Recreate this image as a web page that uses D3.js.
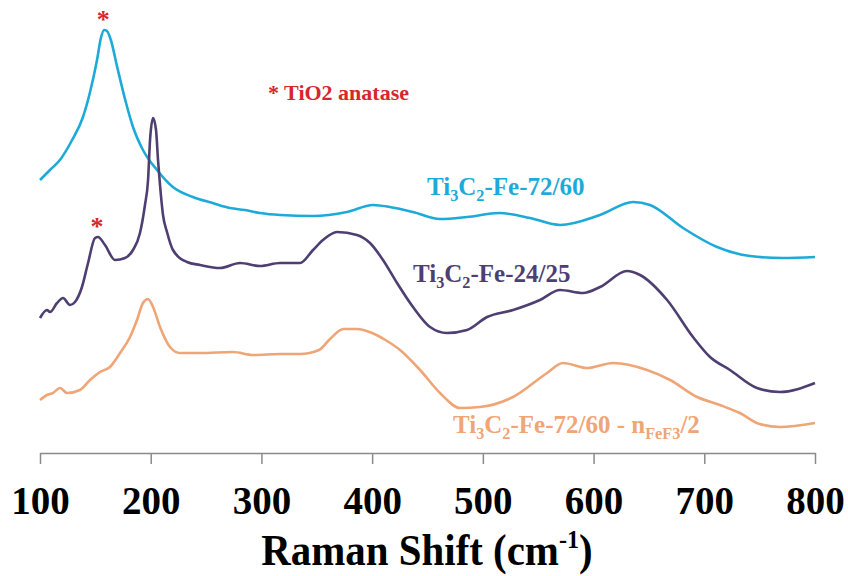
<!DOCTYPE html>
<html>
<head>
<meta charset="utf-8">
<script src="https://cdn.jsdelivr.net/npm/d3@7"></script>
<style>
  body { margin: 0; background: #fff; }
</style>
</head>
<body>
<div id="chart"></div>
<script>
// Raman shift (cm-1) and intensity (a.u., offset stacked)
const shiftTicks = [100, 200, 300, 400, 500, 600, 700, 800]

const cyanShift = [100, 109, 118, 129, 138.5, 145, 151.5, 155, 158, 160.5, 164, 169.5, 177, 184, 193, 205.7, 220, 238, 256, 271.6, 285, 298.7, 316.8, 346.6, 377.3, 400.8, 416, 436.9, 461.3, 485.7, 514.6, 542.6, 569.7, 605.8, 635.7, 651, 680.8, 711.5, 741.3, 771.1, 800]
const cyanIntensity = [275, 285, 295, 315, 337, 362, 395, 417, 425, 424, 415, 389, 355, 328, 305, 285, 268, 258, 252, 247, 245, 242, 240, 239, 243, 250, 248, 243, 236, 238, 242, 237, 230, 240, 253, 250, 227, 208, 199, 197, 198]

const purpleShift = [100, 106.3, 109, 115.4, 120.8, 127.1, 131.6, 137.9, 143.4, 149.7, 152.4, 158.7, 167.7, 176.8, 184, 190.3, 194.8, 197.6, 199.4, 202.1, 204.8, 206.6, 208.4, 211.1, 214.7, 220.1, 232.8, 244.5, 262.6, 280.7, 298.7, 316.8, 334.9, 346.6, 355.6, 368.3, 386.3, 398.1, 409.8, 422.5, 436.9, 452.3, 467.6, 485.7, 503.8, 527.3, 551.6, 569.7, 590.5, 605.8, 630.2, 642, 666.4, 689.8, 705.2, 723.2, 747.6, 768.4, 800]
const purpleIntensity = [137, 145, 143, 152, 157, 150, 153, 168, 192, 217, 218, 210, 195, 197, 205, 222, 250, 275, 315, 337, 325, 295, 270, 240, 223, 205, 193, 190, 187, 192, 189, 192, 192, 205, 215, 223, 220, 212, 195, 172, 148, 128, 122, 125, 138, 145, 155, 165, 162, 168, 184, 180, 155, 118, 98, 85, 67, 63, 72]

const orangeShift = [100, 106.3, 111.7, 118.1, 124.4, 136.1, 145.2, 154.2, 163.2, 172.3, 181.3, 187.6, 193, 197.6, 202.1, 208.4, 217.4, 226.5, 244.5, 274.3, 292.4, 316.8, 334.9, 352, 362, 374, 386.3, 400, 412, 425.2, 443.3, 461.3, 479.4, 497.5, 527.3, 558, 572.4, 594.1, 617.6, 648.3, 669.1, 693.5, 714, 732, 750, 768.4, 800]
const orangeIntensity = [55, 60, 62, 67, 62, 65, 75, 83, 88, 102, 118, 135, 152, 156, 148, 128, 108, 102, 102, 103, 100, 101, 101, 105, 116, 126, 126, 122, 115, 105, 85, 62, 47, 48, 58, 82, 92, 87, 92, 85, 75, 58, 50, 42, 31, 28, 32]

// labels: [text, subscript?]
const cyanLabel = [["Ti", false], ["3", true], ["C", false], ["2", true], ["-Fe-72/60", false]]
const purpleLabel = [["Ti", false], ["3", true], ["C", false], ["2", true], ["-Fe-24/25", false]]
const orangeLabel = [["Ti", false], ["3", true], ["C", false], ["2", true], ["-Fe-72/60 - n", false], ["FeF3", true], ["/2", false]]
const anataseShift = [158, 152.4]
const anataseIntensity = [425, 218]

const width = 848
const height = 576
const serif = "'Liberation Serif', 'Times New Roman', serif"

const svg = d3.select("#chart")
    .append("svg")
    .attr("width", width)
    .attr("height", height)

const x = d3.scaleLinear().domain([100, 800]).range([40, 815])
const y = d3.scaleLinear().domain([0, 450]).range([455, 5])

const line = d3.line()
    .x(d => x(d[0]))
    .y(d => y(d[1]))
    .curve(d3.curveMonotoneX)

const series = [
    { shift: cyanShift, val: cyanIntensity, color: "#1eaad9" },
    { shift: purpleShift, val: purpleIntensity, color: "#4e3e72" },
    { shift: orangeShift, val: orangeIntensity, color: "#efa576" }
]

series.forEach(s => {
    svg.append("path")
        .datum(d3.zip(s.shift, s.val))
        .attr("d", line)
        .attr("fill", "none")
        .attr("stroke", s.color)
        .attr("stroke-width", 2.6)
        .attr("stroke-linejoin", "round")
})

// x axis, ticks pointing down
const axis = svg.append("g")
    .attr("transform", "translate(0,453)")
    .call(d3.axisBottom(x).tickValues(shiftTicks).tickSize(11).tickSizeOuter(0).tickPadding(22))
axis.select(".domain").attr("stroke", "#8a8a8a").attr("stroke-width", 1.5)
axis.selectAll(".tick line").attr("stroke", "#8a8a8a").attr("stroke-width", 1.5)
axis.selectAll(".tick text")
    .attr("fill", "#000")
    .attr("font-family", serif)
    .attr("font-weight", "bold")
    .attr("font-size", "39px")

const title = svg.append("text")
    .attr("transform", "translate(427,565) scale(0.93,1)")
    .attr("text-anchor", "middle")
    .attr("font-family", serif)
    .attr("font-weight", "bold")
    .attr("font-size", "44px")
title.append("tspan").text("Raman Shift (cm")
title.append("tspan").attr("font-size", "26px").attr("dy", -17).text("-1")
title.append("tspan").attr("dy", 17).text(")")

function formula(parts, px, py, color, size) {
    const t = svg.append("text")
        .attr("x", px)
        .attr("y", py)
        .attr("fill", color)
        .attr("font-family", serif)
        .attr("font-weight", "bold")
        .attr("font-size", size + "px")
    let down = false
    parts.forEach(p => {
        const sp = t.append("tspan").text(p[0])
        if (p[1] && !down) { sp.attr("font-size", (size * 0.65) + "px").attr("dy", size * 0.22); down = true }
        else if (!p[1] && down) { sp.attr("dy", -size * 0.22); down = false }
        else if (p[1]) sp.attr("font-size", (size * 0.65) + "px")
    })
}

formula(cyanLabel, 427, 195, "#1eaad9", 25)
formula(purpleLabel, 413, 282, "#4e3e72", 25)
formula(orangeLabel, 453, 433, "#efa576", 25)

// anatase markers
anataseShift.forEach((s, i) => {
    svg.append("text")
        .attr("x", x(s) - 1)
        .attr("y", y(anataseIntensity[i]) - 2)
        .attr("text-anchor", "middle")
        .attr("fill", "#d7262e")
        .attr("font-family", serif)
        .attr("font-weight", "bold")
        .attr("font-size", "26px")
        .text("*")
})

svg.append("text")
    .attr("x", 268)
    .attr("y", 100)
    .attr("fill", "#d7262e")
    .attr("font-family", serif)
    .attr("font-weight", "bold")
    .attr("font-size", "22px")
    .text("* TiO2 anatase")
</script>
</body>
</html>
